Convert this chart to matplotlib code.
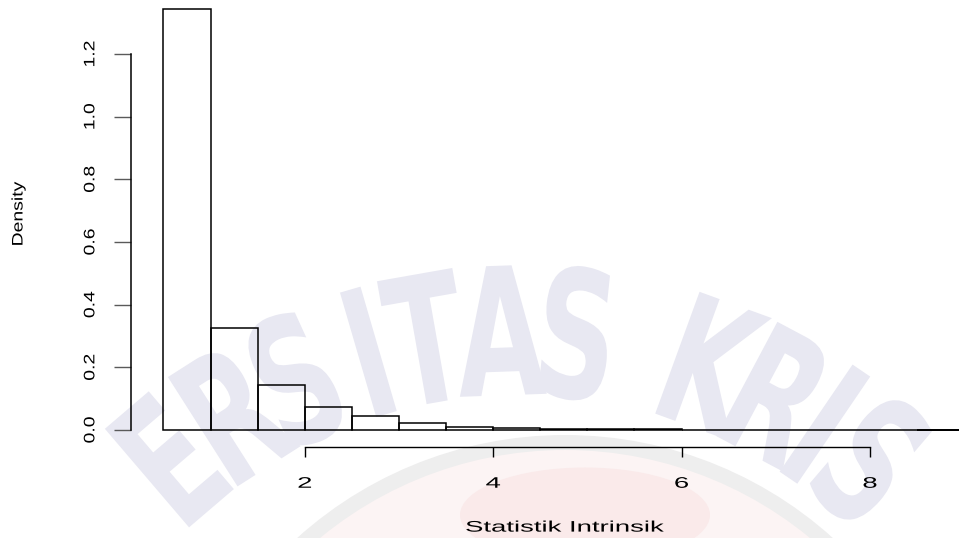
import math
import matplotlib
matplotlib.use("Agg")
import matplotlib.pyplot as plt
from matplotlib.patheffects import AbstractPathEffect
from matplotlib.transforms import Affine2D
from matplotlib.patches import Circle, Ellipse

# Histogram (density scale) of the intrinsic statistic
bin_left = [0.5, 1.0, 1.5, 2.0, 2.5, 3.0, 3.5, 4.0, 4.5, 5.0,
            5.5, 6.0, 6.5, 7.0, 7.5, 8.0, 8.5, 9.0]
bin_width = 0.5
density = [1.343, 0.326, 0.145, 0.073, 0.045, 0.023, 0.009, 0.007, 0.003, 0.003,
           0.002, 0.001, 0.001, 0.001, 0.001, 0.0005, 0.0005, 0.0005]

x_ticks = [2, 4, 6, 8]
x_tick_labels = ["2", "4", "6", "8"]
y_ticks = [0.0, 0.2, 0.4, 0.6, 0.8, 1.0, 1.2]
y_tick_labels = ["0.0", "0.2", "0.4", "0.6", "0.8", "1.0", "1.2"]
x_title = "Statistik Intrinsik"
y_title = "Density"
watermark = "ERSITAS KRIS"

plt.rcParams["font.family"] = ["Liberation Sans", "DejaVu Sans"]


class GlyphStretch(AbstractPathEffect):
    """Scale a text's glyphs along its own writing direction."""

    def __init__(self, factor):
        super().__init__()
        self._factor = factor

    def draw_path(self, renderer, gc, tpath, affine, rgbFace=None):
        ext = tpath.get_extents()
        cx = 0.5 * (ext.x0 + ext.x1)
        if not (abs(cx) < 1e12):
            cx = 0.0
        stretch = Affine2D().translate(-cx, 0).scale(self._factor, 1).translate(cx, 0)
        renderer.draw_path(gc, tpath, stretch + affine, rgbFace)


W, H = 959, 538
fig = plt.figure(figsize=(W / 100, H / 100), dpi=100)
fig.patch.set_facecolor("white")

# background layer in pixel coordinates for the faint watermark
bg = fig.add_axes([0, 0, 1, 1], zorder=-1)
bg.set_xlim(0, W)
bg.set_ylim(H, 0)
bg.axis("off")

bg.add_patch(Circle((565, 835), 400, facecolor="#eeeeee", edgecolor="none"))
bg.add_patch(Circle((565, 835), 385, facecolor="#fcf4f4", edgecolor="none"))
bg.add_patch(Ellipse((585, 515), 250, 95, facecolor="#faeaea", edgecolor="none"))

# lettering laid out on an arc
cx_arc, cy_arc, r_base = 520.0, 872.0, 477.0
steps = {"I": 4.5, " ": 6.0}
idx_a = watermark.index("A")
angles = [0.0] * len(watermark)
angles[idx_a] = -2.0
for i in range(idx_a + 1, len(watermark)):
    angles[i] = angles[i - 1] + 0.5 * steps.get(watermark[i - 1], 8.0) + 0.5 * steps.get(watermark[i], 8.0)
for i in range(idx_a - 1, -1, -1):
    angles[i] = angles[i + 1] - 0.5 * steps.get(watermark[i + 1], 8.0) - 0.5 * steps.get(watermark[i], 8.0)
# the left end of the arc sits a little lower
angles = [a - 2.0 if a < -20 else a for a in angles]
for ch, th in zip(watermark, angles):
    if ch == " ":
        continue
    t = math.radians(th)
    px = cx_arc + r_base * math.sin(t)
    py = cy_arc - r_base * math.cos(t)
    bg.text(px, py, ch, fontsize=128, family="DejaVu Sans", weight="bold",
            color="#e8e8f2", rotation=-th, rotation_mode="anchor",
            ha="center", va="baseline",
            path_effects=[GlyphStretch(0.64)])

# main plotting area
left_px, right_px = 130.7, 959.0
top_px, bottom_px = 0.0, 447.3
ax = fig.add_axes([left_px / W, 1 - bottom_px / H,
                   (right_px - left_px) / W, (bottom_px - top_px) / H])
ax.patch.set_visible(False)

ax.bar(bin_left, density, width=bin_width, align="edge",
       fill=False, edgecolor="black", linewidth=1.1)

ax.set_xlim(0.1518, 8.945)
ax.set_ylim(-0.0552, 1.3725)

for side in ("top", "right"):
    ax.spines[side].set_visible(False)
ax.spines["left"].set_bounds(0.0, 1.2)
ax.spines["bottom"].set_bounds(2, 8)
ax.spines["left"].set_linewidth(1.1)
ax.spines["bottom"].set_linewidth(1.0)

ax.set_xticks(x_ticks)
ax.set_xticklabels(x_tick_labels)
ax.set_yticks(y_ticks)
ax.set_yticklabels(y_tick_labels, va="center")
ax.tick_params(axis="x", length=7.2, width=1.0, color="black", pad=14,
               labelsize=11)
ax.tick_params(axis="y", length=12.6, width=1.0, color="#5a5a5a", pad=11.4,
               labelsize=11, labelrotation=90)

for lab in ax.get_xticklabels():
    lab.set_path_effects([GlyphStretch(1.8)])
for lab in ax.get_yticklabels():
    lab.set_path_effects([GlyphStretch(1.27)])

fig.text(564.5 / W, (H - 531.6) / H, x_title, fontsize=11, ha="center",
         va="baseline", path_effects=[GlyphStretch(1.8)])
fig.text(18.5 / W, (H - 214) / H, y_title, fontsize=11, rotation=90,
         ha="center", va="center", path_effects=[GlyphStretch(1.27)])

fig.savefig("out.png", dpi=100, facecolor="white")
